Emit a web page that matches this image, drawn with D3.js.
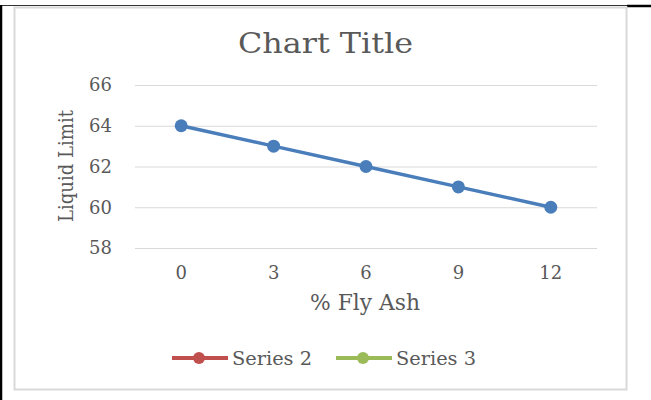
<!DOCTYPE html>
<html>
<head>
<meta charset="utf-8">
<script src="https://cdn.jsdelivr.net/npm/d3@7"></script>
<style>
  body { margin: 0; background: #fff; }
  text { font-family: "DejaVu Serif", serif; fill: #595959; }
</style>
</head>
<body>
<div id="chart"></div>
<script>
// data
var flyAsh = ["0", "3", "6", "9", "12"];
var liquidLimit = [64, 63, 62, 61, 60];
var yTicks = [58, 60, 62, 64, 66];
var legendNames = ["Series 2", "Series 3"];
var legendColors = ["#C0504D", "#9BBB59"];

var svg = d3.select("#chart").append("svg")
  .attr("width", 651)
  .attr("height", 400);

// page frame lines
svg.append("line").attr("x1", 0).attr("x2", 627).attr("y1", 5.5).attr("y2", 5.5)
  .attr("stroke", "#333").attr("stroke-width", 1.2);
svg.append("line").attr("x1", 627).attr("x2", 651).attr("y1", 6).attr("y2", 6)
  .attr("stroke", "#000").attr("stroke-width", 2.5);
svg.append("line").attr("x1", 1).attr("x2", 1).attr("y1", 5).attr("y2", 400)
  .attr("stroke", "#000").attr("stroke-width", 2.5);

// chart border
svg.append("rect")
  .attr("x", 14.5).attr("y", 7.5)
  .attr("width", 612).attr("height", 382)
  .attr("fill", "#fff")
  .attr("stroke", "#d9d9d9")
  .attr("stroke-width", 2);

var margin = { top: 85, left: 135 };
var width = 462, height = 163;

var g = svg.append("g")
  .attr("transform", `translate(${margin.left}, ${margin.top})`);

var x = d3.scaleBand().domain(flyAsh).range([0, width]);
var y = d3.scaleLinear().domain([58, 66]).range([height, 0]);

// gridlines
g.append("g")
  .call(d3.axisLeft(y).tickValues(yTicks).tickSize(-width).tickFormat(""))
  .call(a => a.select(".domain").remove())
  .call(a => a.selectAll("line").attr("stroke", "#d9d9d9").attr("stroke-width", 1));

// y tick labels
g.append("g")
  .call(d3.axisLeft(y).tickValues(yTicks).tickSize(0).tickPadding(23))
  .call(a => a.select(".domain").remove())
  .call(a => a.selectAll("text").attr("font-size", 18).attr("fill", "#595959")
    .style("font-family", "DejaVu Serif"));

// x tick labels
g.append("g")
  .attr("transform", `translate(0, ${height})`)
  .call(d3.axisBottom(x).tickSize(0).tickPadding(18))
  .call(a => a.select(".domain").remove())
  .call(a => a.selectAll("text").attr("font-size", 18).attr("fill", "#595959")
    .style("font-family", "DejaVu Serif"));

// series line
var line = d3.line()
  .x((d, i) => x(flyAsh[i]) + x.bandwidth() / 2)
  .y(d => y(d));

g.append("path")
  .datum(liquidLimit)
  .attr("d", line)
  .attr("fill", "none")
  .attr("stroke", "#4a7ebb")
  .attr("stroke-width", 3.5);

g.selectAll("circle")
  .data(liquidLimit)
  .enter()
  .append("circle")
  .attr("cx", (d, i) => x(flyAsh[i]) + x.bandwidth() / 2)
  .attr("cy", d => y(d))
  .attr("r", 6.5)
  .attr("fill", "#4a7ebb");

// title
svg.append("text")
  .attr("x", 238).attr("y", 53)
  .attr("font-size", 28)
  .attr("textLength", 175)
  .attr("lengthAdjust", "spacingAndGlyphs")
  .text("Chart Title");

// axis titles
svg.append("text")
  .attr("x", 310).attr("y", 310)
  .attr("font-size", 22)
  .attr("textLength", 110)
  .attr("lengthAdjust", "spacingAndGlyphs")
  .text("% Fly Ash");

svg.append("text")
  .attr("transform", "translate(73, 222) rotate(-90)")
  .attr("font-size", 21)
  .attr("textLength", 112)
  .attr("lengthAdjust", "spacingAndGlyphs")
  .text("Liquid Limit");

// legend
var legend = svg.selectAll(".legend")
  .data(legendNames)
  .enter()
  .append("g")
  .attr("class", "legend")
  .attr("transform", (d, i) => `translate(${172 + i * 164}, 358)`);

legend.append("line")
  .attr("x1", 0).attr("x2", 56)
  .attr("stroke", (d, i) => legendColors[i])
  .attr("stroke-width", 4);

legend.append("circle")
  .attr("cx", 27).attr("r", 6)
  .attr("fill", (d, i) => legendColors[i]);

legend.append("text")
  .attr("x", 60).attr("y", 7)
  .attr("font-size", 19)
  .attr("textLength", 80)
  .attr("lengthAdjust", "spacingAndGlyphs")
  .text(d => d);
</script>
</body>
</html>
